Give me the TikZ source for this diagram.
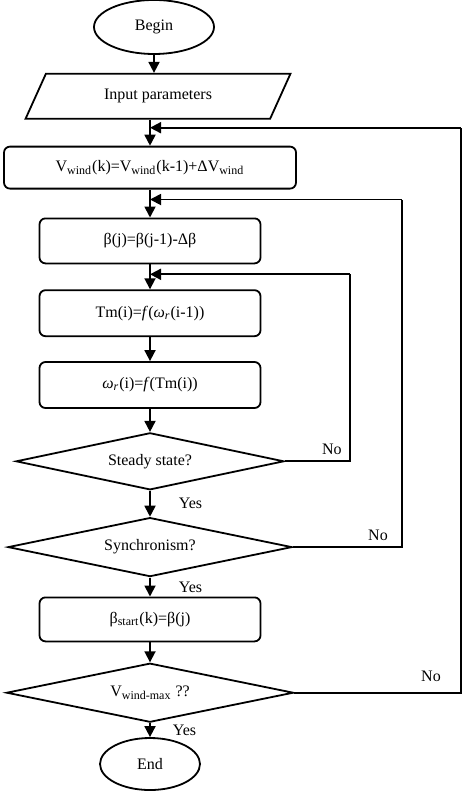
\documentclass[tikz,border=0pt]{standalone}
\usepackage{fontspec}
\setmainfont{Liberation Serif}
\usetikzlibrary{shapes.geometric, arrows.meta, positioning}

\begin{document}
\begin{tikzpicture}[
    % node styles
    term/.style={ellipse, draw, line width=0.9pt, minimum width=60pt, minimum height=27pt, inner sep=1pt},
    io/.style={trapezium, trapezium left angle=68, trapezium right angle=112, trapezium stretches=true, draw, line width=0.9pt, minimum width=133pt, minimum height=22.5pt},
    proc/.style={rectangle, rounded corners=3pt, draw, line width=0.9pt, minimum width=110.5pt, minimum height=22.5pt, align=center},
    decision/.style={diamond, aspect=4.8, draw, line width=0.9pt, minimum width=134pt, minimum height=28.5pt, inner sep=1pt},
    arrow/.style={-{Triangle[length=5.5pt, width=5.5pt]}, line width=0.9pt},
    line/.style={line width=0.9pt},
    lab/.style={inner sep=1pt},
    font=\fontsize{8}{10}\selectfont
]

% page frame
\useasboundingbox (0,0) rectangle (234.5pt,-397.5pt);

% start and input
\node (begin) [term] at (77pt,-13.5pt) {Begin};
\node (input) [io, below=9pt of begin, xshift=2pt] {Input parameters};

% outer loop: wind speed step
\node (vwind) [proc, below=13pt of input, xshift=-4pt, minimum width=146pt, minimum height=21pt] {V\textsubscript{wind}(k)=V\textsubscript{wind}(k-1)+ΔV\textsubscript{wind}};

% middle loop: pitch step
\node (beta) [proc, below=14pt of vwind] {β(j)=β(j-1)-Δβ};

% inner loop: torque / speed iteration
\node (tm) [proc, below=12.5pt of beta, minimum height=23pt] {Tm(i)=\textit{f}(\textit{ω}\textsubscript{\textit{r}}(i-1))};
\node (omega) [proc, below=12pt of tm, minimum height=23pt] {\textit{ω}\textsubscript{\textit{r}}(i)=\textit{f}(Tm(i))};

% checks
\node (steady) [decision, below=11.5pt of omega] {Steady state?};
\node (sync) [decision, below=13pt of steady, minimum width=142pt, minimum height=29.5pt] {Synchronism?};
\node (bstart) [proc, below=9.5pt of sync, minimum height=22pt] {β\textsubscript{start}(k)=β(j)};
\node (vmax) [decision, below=10pt of bstart, minimum width=143.5pt, minimum height=29.5pt] {V\textsubscript{wind-max} ??};
\node (end) [term, below=7pt of vmax, minimum width=50pt, minimum height=26pt] {End};

% loop return points on the main line
\coordinate (j0) at ([yshift=9pt]vwind.north);
\coordinate (j1) at ([yshift=-5pt]vwind.south);
\coordinate (j2) at ([yshift=-5pt]beta.south);
\coordinate (r0) at ([xshift=155.5pt]j0);
\coordinate (r1) at ([xshift=126pt]j1);
\coordinate (r2) at ([xshift=100pt]j2);

% main flow
\draw [arrow] (begin.south) -- (begin.south |- input.north);
\draw [arrow] (input.south -| vwind.north) -- (vwind.north);
\draw [arrow] (vwind) -- (beta);
\draw [arrow] (beta) -- (tm);
\draw [arrow] (tm) -- (omega);
\draw [arrow] (omega) -- (steady);
\draw [arrow] (steady) -- node[lab, right=13pt] {Yes} (sync);
\draw [arrow] (sync) -- node[lab, right=13pt] {Yes} (bstart);
\draw [arrow] (bstart) -- (vmax);
\draw [arrow] (vmax) -- node[lab, right=10pt] {Yes} (end);

% feedback loops
\draw [line] (steady.east) -| node[lab, above, pos=0.36, yshift=2pt] {No} (r2);
\draw [arrow] (r2) -- (j2);
\draw [line] (sync.east) -| node[lab, above, pos=0.39, yshift=2pt] {No} (r1);
\draw [arrow] (r1) -- (j1);
\draw [line] (vmax.east) -| node[lab, above, pos=0.41, yshift=4pt] {No} (r0);
\draw [arrow] (r0) -- (j0);

\end{tikzpicture}
\end{document}
